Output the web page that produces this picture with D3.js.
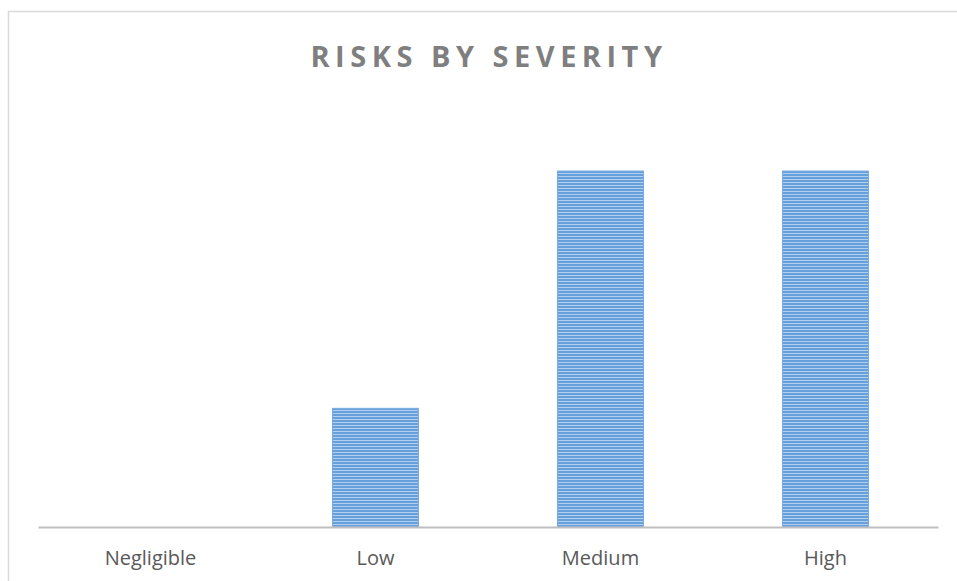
<!DOCTYPE html>
<html><head><meta charset="utf-8">
<script src="https://cdn.jsdelivr.net/npm/d3@7"></script>
<style>html,body{margin:0;padding:0;background:#fff;overflow:hidden}</style>
</head><body>
<script>
const categories = ["Negligible", "Low", "Medium", "High"];
const values = [0, 1, 3, 3];
const title = "RISKS BY SEVERITY";

const W = 957, H = 581;
const svg = d3.select("body").append("svg").attr("width", W).attr("height", H);

const defs = svg.append("defs");
const pat = defs.append("pattern").attr("id", "stripes").attr("patternUnits", "userSpaceOnUse")
  .attr("width", 8).attr("height", 3);
pat.append("rect").attr("width", 8).attr("height", 3).attr("fill", "#b3cfee");
pat.append("rect").attr("width", 8).attr("height", 2).attr("fill", "#66a0dc");

svg.append("rect").attr("x", 8.5).attr("y", 11.5).attr("width", 1000).attr("height", 1000)
  .attr("fill", "none").attr("stroke", "#d9d9d9").attr("stroke-width", 1.5);

const x = d3.scaleBand().domain(categories).range([38, 938]).paddingInner(0.618).paddingOuter(0.309);
const y = d3.scaleLinear().domain([0, 3.5]).range([527, 111.7]);

svg.append("g").selectAll("rect").data(categories).join("rect")
  .attr("x", d => x(d))
  .attr("y", (d, i) => y(values[i]))
  .attr("width", x.bandwidth())
  .attr("height", (d, i) => y(0) - y(values[i]))
  .attr("fill", "url(#stripes)")
  .attr("stroke", "#79ace2").attr("stroke-width", 1);

const ax = svg.append("g").attr("transform", `translate(0,${y(0)})`)
  .call(d3.axisBottom(x).tickSize(0).tickPadding(24));
ax.select(".domain").attr("stroke", "#bfbfbf").attr("stroke-width", 2);
ax.selectAll("text").attr("font-family", "'Open Sans', sans-serif").attr("font-size", 20)
  .attr("fill", "#595959");

svg.append("text").attr("x", 489).attr("y", 67).attr("text-anchor", "middle")
  .attr("font-family", "'Open Sans', sans-serif").attr("font-weight", "bold")
  .attr("font-size", 29).attr("letter-spacing", 5.5).attr("fill", "#7f7f7f").text(title);
</script>
</body></html>
